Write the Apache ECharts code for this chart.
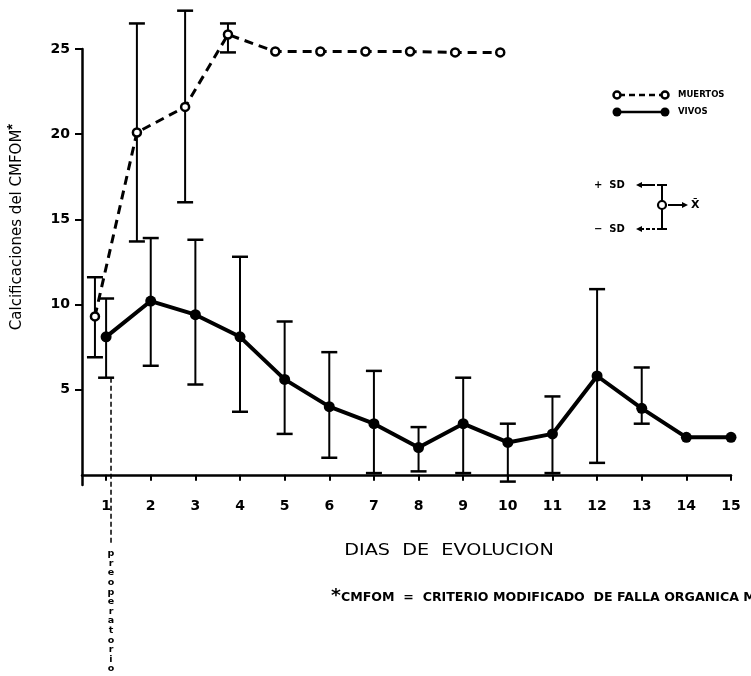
<!DOCTYPE html>
<html><head><meta charset="utf-8">
<script src="https://cdn.jsdelivr.net/npm/echarts@6.0.0/dist/echarts.min.js"></script>
<style>html,body{margin:0;padding:0;background:#fff}#c{width:751px;height:676px}</style>
</head><body><div id="c"></div>
<script>
// ---- data ----
const dayTicks = [1,2,3,4,5,6,7,8,9,10,11,12,13,14,15];
const yTicks = [5,10,15,20,25];

const vivosDays  = [1,2,3,4,5,6,7,8,9,10,11,12,13,14,15];
const vivosMean  = [8.1,10.2,9.4,8.1,5.6,4.0,3.0,1.6,3.0,1.9,2.4,5.8,3.9,2.2,2.2];
const vivosUpper = [10.35,13.9,13.8,12.8,9.0,7.2,6.1,2.8,5.7,3.0,4.6,10.9,6.3,null,null];
const vivosLower = [5.7,6.4,5.3,3.7,2.4,1.0,0.1,0.2,0.1,-0.4,0.1,0.7,3.0,null,null];

const muertosDays  = [0.75,1.69,2.77,3.73,4.79,5.80,6.81,7.81,8.82,9.83];
const muertosMean  = [9.3,20.1,21.6,25.85,24.85,24.85,24.85,24.85,24.8,24.8];
const muertosUpper = [11.6,26.5,27.25,26.5,null,null,null,null,null,null];
const muertosLower = [6.9,13.7,16.0,24.8,null,null,null,null,null,null];

const preopX = 1.11;      // dashed "preoperatorio" marker position (day axis)
const preopTop = 5.7;

// ---- build series data ----
function pairs(xs, ys){ return xs.map((x,i)=>[x, ys[i]]); }
function bars(xs, lo, hi){
  const out=[];
  xs.forEach((x,i)=>{ if(lo[i]!=null && hi[i]!=null) out.push([x, lo[i], hi[i]]); });
  return out;
}
function errRender(params, api){
  const x = api.value(0), lo = api.value(1), hi = api.value(2);
  const a = api.coord([x, hi]), b = api.coord([x, lo]);
  const w = 8;
  return {type:'group', children:[
    {type:'line', shape:{x1:a[0],y1:a[1],x2:b[0],y2:b[1]}, style:{stroke:'#000',lineWidth:2}},
    {type:'line', shape:{x1:a[0]-w,y1:a[1],x2:a[0]+w,y2:a[1]}, style:{stroke:'#000',lineWidth:2.5}},
    {type:'line', shape:{x1:b[0]-w,y1:b[1],x2:b[0]+w,y2:b[1]}, style:{stroke:'#000',lineWidth:2.5}}
  ]};
}

const chart = echarts.init(document.getElementById('c'), null, {renderer:'canvas'});
const F = 'DejaVu Sans';

const option = {
  animation:false,
  backgroundColor:'#fff',
  grid:{left:82, right:20, top:49, bottom:191, containLabel:false},
  xAxis:{
    type:'value', min:0.46, max:15,
    axisLine:{show:true, lineStyle:{color:'#000', width:2.5}},
    axisTick:{show:true, customValues:dayTicks, length:6, lineStyle:{color:'#000', width:2}},
    axisLabel:{customValues:dayTicks, color:'#000', fontFamily:F, fontWeight:'bold', fontSize:14, margin:14},
    splitLine:{show:false}
  },
  yAxis:{
    type:'value', min:-0.6, max:25,
    axisLine:{show:true, lineStyle:{color:'#000', width:2.5}},
    axisTick:{show:true, customValues:yTicks, length:7, lineStyle:{color:'#000', width:2}},
    axisLabel:{customValues:yTicks, color:'#000', fontFamily:F, fontWeight:'bold', fontSize:14, margin:12},
    splitLine:{show:false}
  },
  series:[
    {type:'custom', name:'sd-muertos', renderItem:errRender, data:bars(muertosDays, muertosLower, muertosUpper), clip:false, z:2},
    {type:'custom', name:'sd-vivos', renderItem:errRender, data:bars(vivosDays, vivosLower, vivosUpper), clip:false, z:2},
    {type:'line', name:'MUERTOS', data:pairs(muertosDays, muertosMean), clip:false, z:4,
      symbol:'circle', symbolSize:8,
      itemStyle:{color:'#fff', borderColor:'#000', borderWidth:2.5},
      lineStyle:{color:'#000', width:3, type:[9,6]}},
    {type:'line', name:'VIVOS', data:pairs(vivosDays, vivosMean), clip:false, z:4,
      symbol:'circle', symbolSize:11,
      itemStyle:{color:'#000', borderColor:'#000', borderWidth:0},
      lineStyle:{color:'#000', width:4}},
    {type:'line', name:'preop', data:[[preopX, preopTop],[preopX, -4.0]], clip:false, z:1,
      symbol:'none', lineStyle:{color:'#000', width:1.5, type:[5,3]}}
  ],
  graphic:[
    // y axis title
    {type:'text', x:17, y:227, rotation:Math.PI/2, z:10,
      style:{text:'Calcificaciones del CMFOM{s|*}', rich:{s:{fontSize:15, fontWeight:'bold', verticalAlign:'top', padding:[0,0,8,0]}},
        fontFamily:F, fontSize:15, fill:'#000', align:'center', verticalAlign:'middle'}},
    // x axis title
    {type:'text', x:449, y:551, z:10, scaleX:1.28,
      style:{text:'DIAS  DE  EVOLUCION', fontFamily:F, fontSize:15, fill:'#000', align:'center', verticalAlign:'middle'}},
    // footnote
    {type:'text', x:331, y:598, z:10, scaleX:1.05,
      style:{text:'{a|*}CMFOM  =  CRITERIO MODIFICADO  DE FALLA ORGANICA MULTIPLE',
        rich:{a:{fontSize:18, fontWeight:'bold', fontFamily:F, fill:'#000', padding:[0,0,4,0]}},
        fontFamily:F, fontWeight:'bold', fontSize:12, fill:'#000', align:'left', verticalAlign:'middle'}},
    // preoperatorio text (stacked letters)
    {type:'text', x:111, y:549, z:10,
      style:{text:'p\nr\ne\no\np\ne\nr\na\nt\no\nr\ni\no', fontFamily:F, fontWeight:'bold', fontSize:9.5, lineHeight:9.6,
        fill:'#000', align:'center', verticalAlign:'top'}},
    // legend: muertos
    {type:'line', shape:{x1:619,y1:95,x2:663,y2:95}, style:{stroke:'#000', lineWidth:2.5, lineDash:[6,4]}},
    {type:'circle', shape:{cx:617, cy:95, r:3.5}, style:{fill:'#fff', stroke:'#000', lineWidth:2.5}, z:5},
    {type:'circle', shape:{cx:665, cy:95, r:3.5}, style:{fill:'#fff', stroke:'#000', lineWidth:2.5}, z:5},
    {type:'text', x:678, y:95, style:{text:'MUERTOS', fontFamily:F, fontWeight:'bold', fontSize:8.5, fill:'#000', verticalAlign:'middle'}},
    // legend: vivos
    {type:'line', shape:{x1:617,y1:112,x2:665,y2:112}, style:{stroke:'#000', lineWidth:2.5}},
    {type:'circle', shape:{cx:617, cy:112, r:4.5}, style:{fill:'#000'}, z:5},
    {type:'circle', shape:{cx:665, cy:112, r:4.5}, style:{fill:'#000'}, z:5},
    {type:'text', x:678, y:112, style:{text:'VIVOS', fontFamily:F, fontWeight:'bold', fontSize:8.5, fill:'#000', verticalAlign:'middle'}},
    // SD key
    {type:'text', x:594, y:185, style:{text:'+  SD', fontFamily:F, fontWeight:'bold', fontSize:10, fill:'#000', verticalAlign:'middle'}},
    {type:'text', x:594, y:229, style:{text:'\u2212  SD', fontFamily:F, fontWeight:'bold', fontSize:10, fill:'#000', verticalAlign:'middle'}},
    {type:'line', shape:{x1:640,y1:185,x2:655,y2:185}, style:{stroke:'#000', lineWidth:2}},
    {type:'polygon', shape:{points:[[636,185],[642,182],[642,188]]}, style:{fill:'#000'}},
    {type:'line', shape:{x1:640,y1:229,x2:655,y2:229}, style:{stroke:'#000', lineWidth:2, lineDash:[4,2]}},
    {type:'polygon', shape:{points:[[636,229],[642,226],[642,232]]}, style:{fill:'#000'}},
    {type:'line', shape:{x1:662,y1:185,x2:662,y2:229}, style:{stroke:'#000', lineWidth:2}},
    {type:'line', shape:{x1:657,y1:185,x2:667,y2:185}, style:{stroke:'#000', lineWidth:2}},
    {type:'line', shape:{x1:657,y1:229,x2:667,y2:229}, style:{stroke:'#000', lineWidth:2}},
    {type:'circle', shape:{cx:662, cy:205, r:4}, style:{fill:'#fff', stroke:'#000', lineWidth:2.2}, z:5},
    {type:'line', shape:{x1:668,y1:205,x2:683,y2:205}, style:{stroke:'#000', lineWidth:2}},
    {type:'polygon', shape:{points:[[688,205],[682,202],[682,208]]}, style:{fill:'#000'}},
    {type:'text', x:691, y:205, style:{text:'X\u0304', fontFamily:F, fontWeight:'bold', fontSize:11, fill:'#000', verticalAlign:'middle'}}
  ]
};
chart.setOption(option);
</script>
</body></html>
